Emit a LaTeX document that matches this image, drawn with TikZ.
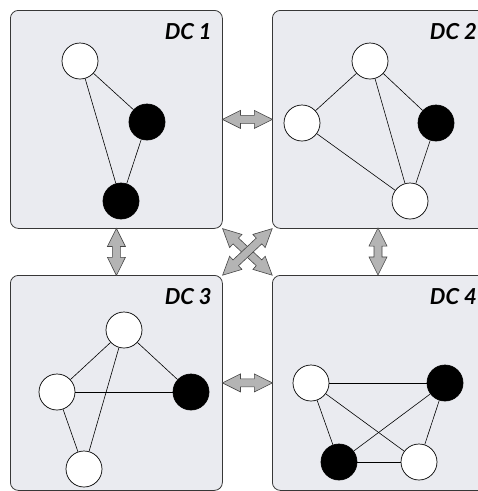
\documentclass[tikz,border=0pt]{standalone}
\usepackage{fontspec}
\setmainfont{Lato}
\usetikzlibrary{shapes.arrows,calc}
\definecolor{boxfill}{RGB}{234,235,240}
\definecolor{boxline}{RGB}{55,55,55}
\definecolor{arrfill}{RGB}{180,180,180}
\definecolor{arrline}{RGB}{70,70,70}
\begin{document}
\begin{tikzpicture}[x=1pt,y=-1pt,
 dcbox/.style={draw=boxline, fill=boxfill, rounded corners=8pt, line width=0.8pt, anchor=north west, inner sep=0pt},
 dclabel/.style={anchor=north east, font=\fontsize{22}{22}\selectfont\bfseries\itshape, inner sep=0pt},
 wnode/.style={circle, draw=black, fill=white, minimum size=36pt, inner sep=0pt, line width=0.7pt},
 bnode/.style={wnode, fill=black},
 link/.style={draw=black, line width=0.6pt},
 dblarr/.style={double arrow, draw=arrline, fill=arrfill, line width=0.6pt, inner sep=3.7pt, minimum width=0pt, double arrow head extend=5pt, double arrow tip angle=53, sloped, anchor=center}]
\useasboundingbox (0,0) rectangle (478,491);
% boxes
\node[dcbox, minimum width=212pt, minimum height=218pt] (b1) at (10,10) {};
\node[dcbox, minimum width=222pt, minimum height=218pt] (b2) at (272,10) {};
\node[dcbox, minimum width=212pt, minimum height=215pt] (b3) at (10,275) {};
\node[dcbox, minimum width=222pt, minimum height=215pt] (b4) at (272,275) {};
% labels
\node[dclabel] (l1) at ($(b1.north east)+(-11,13)$) {DC 1};
\node[dclabel] (l2) at (477,23) {DC 2};
\node[dclabel] (l3) at ($(b3.north east)+(-11,13)$) {DC 3};
\node[dclabel] (l4) at (477,288) {DC 4};
% DC 1
\node[wnode] (p1) at (80,61) {};
\node[bnode] (p2) at (147,122) {};
\node[bnode] (p3) at (121,201) {};
\draw[link] (p1) -- (p2);
\draw[link] (p1) -- (p3);
\draw[link] (p2) -- (p3);
% DC 2
\node[wnode] (q1) at (370,61) {};
\node[wnode] (q2) at (302,123) {};
\node[bnode] (q3) at (436,123) {};
\node[wnode] (q4) at (410,201) {};
\draw[link] (q1) -- (q2);
\draw[link] (q1) -- (q3);
\draw[link] (q1) -- (q4);
\draw[link] (q2) -- (q4);
\draw[link] (q3) -- (q4);
% DC 3
\node[wnode] (r1) at (124,330) {};
\node[wnode] (r2) at (57,392) {};
\node[bnode] (r3) at (191,392) {};
\node[wnode] (r4) at (84,469) {};
\draw[link] (r1) -- (r2);
\draw[link] (r1) -- (r3);
\draw[link] (r1) -- (r4);
\draw[link] (r2) -- (r3);
\draw[link] (r2) -- (r4);
% DC 4
\node[wnode] (s1) at (311,383) {};
\node[bnode] (s2) at (445,383) {};
\node[bnode] (s3) at (339,462) {};
\node[wnode] (s4) at (419,462) {};
\draw[link] (s1) -- (s2);
\draw[link] (s1) -- (s3);
\draw[link] (s1) -- (s4);
\draw[link] (s2) -- (s3);
\draw[link] (s2) -- (s4);
\draw[link] (s3) -- (s4);
% connectors between data centres
\path (b1.east) -- node[dblarr, minimum height=50pt] (a12) {} (b2.west |- b1.east);
\path (b3.east) -- node[dblarr, minimum height=50pt] (a34) {} (b4.west |- b3.east);
\path (b1.south) -- node[dblarr, minimum height=47pt] (a13) {} (b3.north);
\path (378,228) coordinate (c2s) -- node[dblarr, minimum height=47pt] (a24) {} (378,275) coordinate (c4n);
\path (b1.south east) -- node[dblarr, minimum height=68pt] (a14) {} (b4.north west);
\path (b1.south east -| b2.west) -- node[dblarr, minimum height=68pt] (a23) {} (b3.north east);
\end{tikzpicture}
\end{document}
